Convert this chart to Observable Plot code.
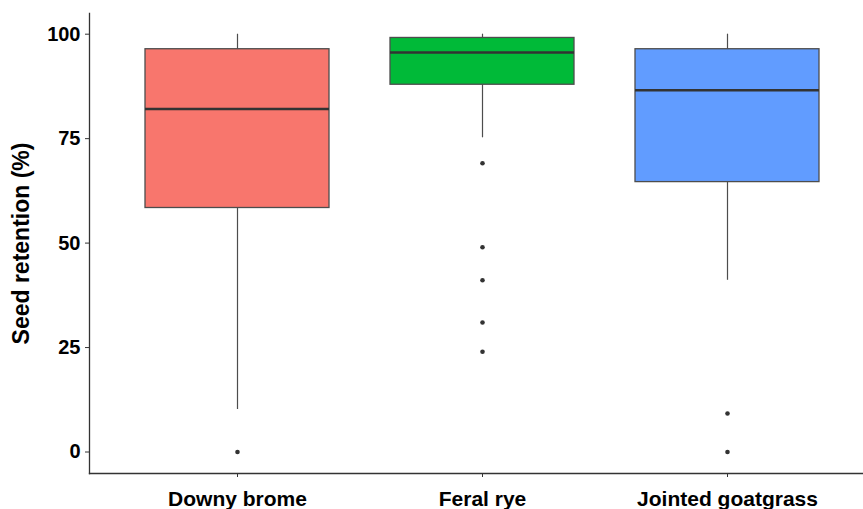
<!DOCTYPE html>
<html><head><meta charset="utf-8">
<script src="https://cdn.jsdelivr.net/npm/d3@7"></script>
<script src="https://cdn.jsdelivr.net/npm/@observablehq/plot@0.6"></script>
<style>body{margin:0;background:#fff}</style>
</head><body><div id="chart"></div>
<script>
const categories = ["Downy brome", "Feral rye", "Jointed goatgrass"];
const whiskerLow = [10.2, 75.2, 41.1];
const q1 = [58.4, 87.9, 64.6];
const median = [82.1, 95.6, 86.6];
const q3 = [96.4, 99.1, 96.4];
const whiskerHigh = [100, 100, 100];
const outliersDowny = [0];
const outliersRye = [69.1, 49.0, 41.1, 31.0, 24.0];
const outliersJointed = [9.2, 0];
const yTicks = [0, 25, 50, 75, 100];
const colors = ["#F8766D", "#00BA38", "#619CFF"];

const boxes = categories.map((c, i) => ({
  cat: c, lo: whiskerLow[i], q1: q1[i], med: median[i], q3: q3[i], hi: whiskerHigh[i]
}));
const outliers = [
  ...outliersDowny.map(v => ({cat: categories[0], v})),
  ...outliersRye.map(v => ({cat: categories[1], v})),
  ...outliersJointed.map(v => ({cat: categories[2], v}))
];

const font = "'Liberation Sans', Arial, Helvetica, sans-serif";
const chart = Plot.plot({
  width: 863, height: 509,
  marginLeft: 89, marginRight: 0, marginTop: 13, marginBottom: 36,
  style: {fontFamily: font, background: "#fff", overflow: "visible"},
  x: {domain: categories, range: [89, 874], paddingInner: 0.25, paddingOuter: 0.225, axis: null},
  y: {domain: [-5, 105], range: [472.4, 12.8], axis: null},
  color: {domain: categories, range: colors},
  marks: [
    Plot.ruleX(boxes, {x: "cat", y1: "lo", y2: "hi", stroke: "#4d4d4d", strokeWidth: 1.2}),
    Plot.barY(boxes, {x: "cat", y1: "q1", y2: "q3", fill: "cat", stroke: "#4d4d4d", strokeWidth: 1.3}),
    Plot.tickY(boxes, {x: "cat", y: "med", stroke: "#333", strokeWidth: 2.6}),
    Plot.dot(outliers, {x: "cat", y: "v", r: 2.3, fill: "#333", stroke: null}),
    Plot.frame({anchor: "left", stroke: "#333", strokeWidth: 1.3}),
    Plot.frame({anchor: "bottom", stroke: "#333", strokeWidth: 1.3}),
    Plot.axisY({ticks: yTicks, tickSize: 4, tickPadding: 5, fontSize: 20, fontWeight: "bold",
      fill: "black", stroke: "#333", label: null}),
    Plot.axisX({tickSize: 4, tickPadding: 14, fontSize: 21, fontWeight: "bold",
      fill: "black", stroke: "#333", label: null}),
    Plot.text(["Seed retention (%)"], {frameAnchor: "left", dx: -61, rotate: -90, lineAnchor: "bottom",
      textAnchor: "middle", fontSize: 23, fontWeight: "bold", fill: "black", text: d => d})
  ]
});
document.getElementById("chart").appendChild(chart);
</script>
</body></html>
